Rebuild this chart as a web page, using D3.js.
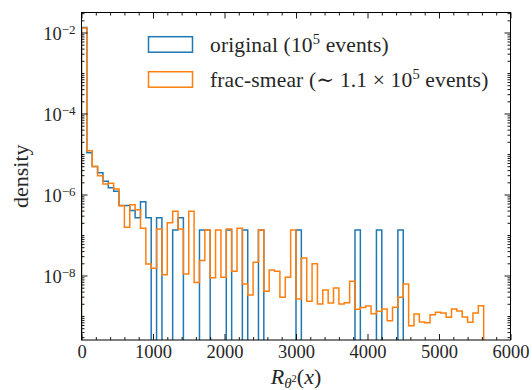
<!DOCTYPE html>
<html>
<head>
<meta charset="utf-8">
<script src="https://cdn.jsdelivr.net/npm/d3@7"></script>
<style>
  body { margin: 0; background: #fff; }
  text { font-family: "Liberation Serif", "DejaVu Serif", serif; fill: #262626; }
</style>
</head>
<body>
<svg id="chart" width="532" height="390"></svg>
<script>
// Histogram binning: 75 equal bins of width 75 starting at 0
const binStart = 0;
const binWidth = 75;

// Original sample: raw counts per bin (10^5 events in total)
const originalEvents = 1e5;
const originalCounts = [
  99787, 80, 37, 26, 16, 11, 9, 4, 4, 3, 2, 5, 2, 0, 2,
  0, 0, 1, 2, 0, 0, 0, 1, 1, 0, 0, 0, 1, 0, 0,
  1, 0, 0, 1, 0, 0, 0, 0, 0, 0, 1, 0, 0, 0, 0,
  0, 0, 0, 0, 0, 0, 1, 0, 0, 0, 1, 0, 0, 0, 1,
  0, 0, 0, 0, 0, 0, 0, 0, 0, 0, 0, 0, 0, 0, 0
];

// Fractionally smeared sample: normalised density per bin
const fracSmearDensity = [
  1.30e-2, 1.21e-5, 4.88e-6, 2.92e-6, 1.82e-6, 1.89e-6, 1.37e-6, 5.31e-7, 1.55e-7, 5.62e-7,
  4.23e-7, 1.46e-7, 1.93e-8, 1.50e-8, 1.41e-7, 1.05e-8, 2.02e-7, 3.84e-7, 1.41e-7, 1.09e-8,
  3.84e-7, 6.67e-9, 2.33e-8, 1.33e-7, 8.85e-9, 1.33e-7, 9.01e-9, 1.41e-7, 1.27e-8, 1.46e-7,
  6.19e-9, 3.31e-9, 2.11e-8, 1.33e-7, 4.06e-9, 1.37e-8, 1.27e-8, 2.89e-9, 9.00e-9, 1.33e-7,
  2.64e-9, 2.72e-8, 2.30e-9, 1.96e-8, 1.99e-9, 4.40e-9, 2.10e-9, 4.93e-9, 1.99e-9, 2.11e-9,
  7.18e-9, 1.46e-9, 1.61e-9, 1.77e-9, 1.14e-9, 1.30e-9, 1.49e-9, 7.68e-10, 1.64e-9, 2.89e-9,
  6.19e-9, 5.78e-10, 1.12e-9, 7.13e-10, 6.85e-10, 1.07e-9, 1.23e-9, 1.19e-9, 9.27e-10, 1.48e-9,
  1.33e-9, 9.48e-10, 6.98e-10, 1.18e-9, 1.80e-9
];

// Axis ticks
const xMajorTicks = [0, 1000, 2000, 3000, 4000, 5000, 6000];
const yLabelExponents = [-2, -4, -6, -8];

const seriesLabels = ["original", "frac-smear"];
const colors = ["#1f77b4", "#ff7f0e"];

// ---------------------------------------------------------------------------
const svg = d3.select("#chart");
const plotLeft = 81.5, plotRight = 510.5, plotTop = 12.5, plotBottom = 340;

const x = d3.scaleLinear().domain([0, 6000]).range([plotLeft, plotRight]);
const y = d3.scaleLog().domain([Math.pow(10, -9.593), Math.pow(10, -1.506)]).range([plotBottom, plotTop]);

const originalDensity = originalCounts.map(c => c / (originalEvents * binWidth));

svg.append("defs").append("clipPath").attr("id", "plotclip")
  .append("rect").attr("x", plotLeft).attr("y", plotTop)
  .attr("width", plotRight - plotLeft).attr("height", plotBottom - plotTop);

// Step outline of a histogram (matplotlib histtype="step")
function stepPoints(values) {
  const yv = v => (v > 0 ? y(v) : plotBottom + 10);
  const pts = [[x(binStart), plotBottom + 10]];
  values.forEach((v, i) => {
    const x0 = x(binStart + i * binWidth), x1 = x(binStart + (i + 1) * binWidth);
    pts.push([x0, yv(v)], [x1, yv(v)]);
  });
  pts.push([x(binStart + values.length * binWidth), plotBottom + 10]);
  return pts;
}

const line = d3.line();
const plot = svg.append("g").attr("clip-path", "url(#plotclip)");
[originalDensity, fracSmearDensity].forEach((vals, i) => {
  plot.append("path")
    .attr("d", line(stepPoints(vals)))
    .attr("fill", "none")
    .attr("stroke", colors[i])
    .attr("stroke-width", 1.5)
    .attr("stroke-linejoin", "miter");
});

// ---------------------------------------------------------------------------
// Ticks (inward, on all four sides)
const xMinorTicks = d3.range(0, 6001, 200).filter(v => v % 1000 !== 0);
const yMajorTicks = yLabelExponents.map(e => Math.pow(10, e));
const yMinorTicks = [];
for (let e = -10; e <= -1; e++) {
  for (let m = 1; m <= 9; m++) {
    const v = m * Math.pow(10, e);
    if (m === 1 && e % 2 === 0) continue;
    if (v >= y.domain()[0] && v <= y.domain()[1]) yMinorTicks.push(v);
  }
}

function styleAxis(g) {
  g.select(".domain").remove();
  g.selectAll(".tick line").attr("stroke", "#000").attr("stroke-width", 0.9);
}

// bottom
svg.append("g").attr("transform", `translate(0,${plotBottom})`)
  .call(d3.axisBottom(x).tickValues(xMajorTicks).tickSize(-6).tickPadding(5).tickFormat(d3.format("d")))
  .call(styleAxis)
  .call(g => g.selectAll("text").attr("font-size", 18.5).attr("fill", "#262626"));
svg.append("g").attr("transform", `translate(0,${plotBottom})`)
  .call(d3.axisBottom(x).tickValues(xMinorTicks).tickSize(-3).tickFormat(""))
  .call(styleAxis);
// top
svg.append("g").attr("transform", `translate(0,${plotTop})`)
  .call(d3.axisTop(x).tickValues(xMajorTicks).tickSize(-6).tickFormat(""))
  .call(styleAxis);
svg.append("g").attr("transform", `translate(0,${plotTop})`)
  .call(d3.axisTop(x).tickValues(xMinorTicks).tickSize(-3).tickFormat(""))
  .call(styleAxis);
// left
const leftAxis = svg.append("g").attr("transform", `translate(${plotLeft},0)`)
  .call(d3.axisLeft(y).tickValues(yMajorTicks).tickSize(-6).tickPadding(6).tickFormat(""))
  .call(styleAxis);
leftAxis.selectAll(".tick text").each(function (d) {
  const t = d3.select(this)
    .attr("font-size", 18.5).attr("fill", "#262626")
    .attr("dy", "0.36em");
  t.append("tspan").text("10");
  t.append("tspan").attr("dy", "-0.45em").attr("font-size", 13)
    .text("\u2212" + Math.abs(Math.round(Math.log10(d))));
});
svg.append("g").attr("transform", `translate(${plotLeft},0)`)
  .call(d3.axisLeft(y).tickValues(yMinorTicks).tickSize(-3).tickFormat(""))
  .call(styleAxis);
// right
svg.append("g").attr("transform", `translate(${plotRight},0)`)
  .call(d3.axisRight(y).tickValues(yMajorTicks).tickSize(-6).tickFormat(""))
  .call(styleAxis);
svg.append("g").attr("transform", `translate(${plotRight},0)`)
  .call(d3.axisRight(y).tickValues(yMinorTicks).tickSize(-3).tickFormat(""))
  .call(styleAxis);

// frame
svg.append("rect")
  .attr("x", plotLeft).attr("y", plotTop)
  .attr("width", plotRight - plotLeft).attr("height", plotBottom - plotTop)
  .attr("fill", "none").attr("stroke", "#000").attr("stroke-width", 1);

// ---------------------------------------------------------------------------
// Axis labels
const xl = svg.append("text").attr("x", 296).attr("y", 384).attr("text-anchor", "middle").attr("font-size", 22);
xl.append("tspan").attr("font-style", "italic").text("R");
xl.append("tspan").attr("font-style", "italic").attr("font-size", 15).attr("dy", 4).text("\u03b8");
xl.append("tspan").attr("font-size", 10.5).attr("dy", -6).text("2");
xl.append("tspan").attr("dy", 2).text("(");
xl.append("tspan").attr("font-style", "italic").text("x");
xl.append("tspan").text(")");

svg.append("text")
  .attr("transform", `translate(28,${(plotTop + plotBottom) / 2}) rotate(-90)`)
  .attr("text-anchor", "middle").attr("font-size", 22)
  .text("density");

// ---------------------------------------------------------------------------
// Legend
const legend = svg.append("g");
const legendRows = [
  { parts: [["original (10"], ["5", true], [" events)"]] },
  { parts: [["frac-smear (\u223c 1.1 \u00d7 10"], ["5", true], [" events)"]] }
];
legendRows.forEach((row, i) => {
  const yRow = 36.7 + i * 35;
  legend.append("rect")
    .attr("x", 148.5).attr("y", yRow).attr("width", 44).attr("height", 15.5)
    .attr("fill", "none").attr("stroke", colors[i]).attr("stroke-width", 1.5);
  const t = legend.append("text").attr("x", 210).attr("y", yRow + 15).attr("font-size", 21.5)
    .attr("letter-spacing", 0.15)
    .attr("data-series", seriesLabels[i]);
  row.parts.forEach(([s, sup], j) => {
    const sp = t.append("tspan").text(s);
    if (sup) sp.attr("font-size", 14.5).attr("dy", -8);
    else if (j > 0) sp.attr("dy", 8);
  });
});
</script>
</body>
</html>
